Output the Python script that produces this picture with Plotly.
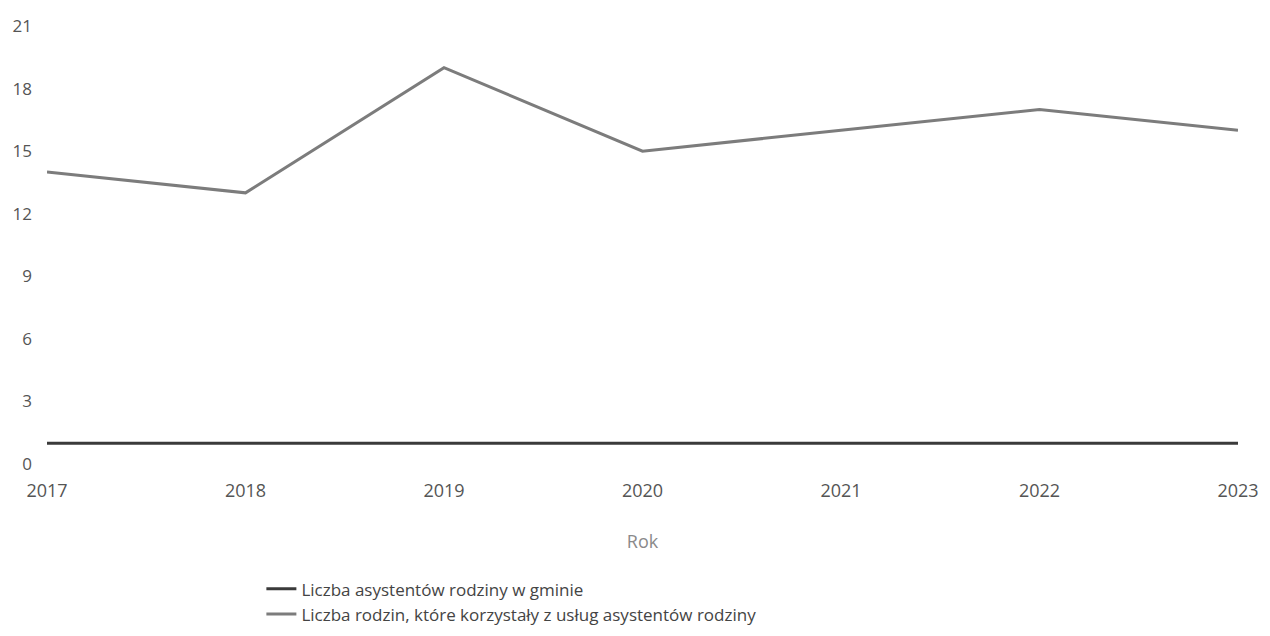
"""
Family assistants in the commune, 2017-2023.
"""

import plotly.graph_objs as go

years = ["2017", "2018", "2019", "2020", "2021", "2022", "2023"]
assistants = [1, 1, 1, 1, 1, 1, 1]
families = [14, 13, 19, 15, 16, 17, 16]
y_ticks = [0, 3, 6, 9, 12, 15, 18, 21]

font = dict(family="Open Sans", size=17, color="#555555")

fig = go.Figure()
fig.add_trace(go.Scatter(
    x=years, y=assistants, mode="lines",
    name="Liczba asystentów rodziny w gminie",
    line=dict(color="#3a3a3a", width=3),
))
fig.add_trace(go.Scatter(
    x=years, y=families, mode="lines",
    name="Liczba rodzin, które korzystały z usług asystentów rodziny",
    line=dict(color="#7c7c7c", width=3),
))

fig.update_layout(
    width=1270, height=636,
    margin=dict(l=39, r=40, t=18, b=163),
    paper_bgcolor="white", plot_bgcolor="white",
    font=font,
    showlegend=True,
    legend=dict(
        orientation="v", x=0.18, xanchor="left", y=-0.245, yanchor="top",
        font=dict(family="Open Sans", size=17, color="#444444"),
        tracegroupgap=0, itemwidth=30,
    ),
)
fig.update_xaxes(
    type="category", showgrid=False, zeroline=False, showline=False,
    ticks="", range=[0, 6], automargin=False, ticklabelstandoff=14,
    title=dict(text="Rok", standoff=34, font=dict(color="#8a8a8a", size=18)),
    tickfont=dict(size=18),
)
fig.update_yaxes(
    range=[0, 21], tickvals=y_ticks, showgrid=False, zeroline=False,
    showline=False, ticks="", ticklabelstandoff=14, automargin=False,
    tickfont=dict(size=17),
)

fig.write_html("out.html")
